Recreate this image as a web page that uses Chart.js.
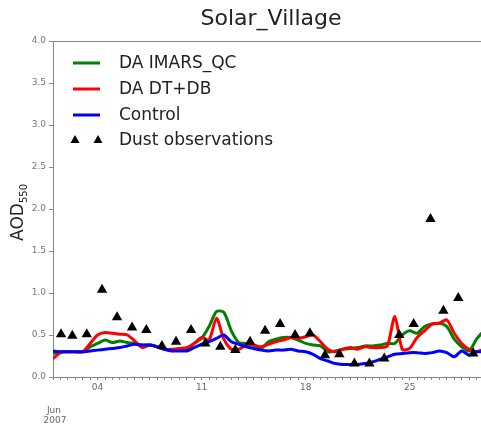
<!DOCTYPE html>
<html>
<head>
<meta charset="utf-8">
<script src="https://cdn.jsdelivr.net/npm/chart.js@4"></script>
<style>
  body { margin: 0; background: #fff; }
  #wrap { width: 481px; height: 427px; position: relative; }
</style>
</head>
<body>
<div id="wrap"><canvas id="myChart"></canvas></div>
<script>
// model times: day of June 2007, every 12 h
const times = [1, 1.5, 2, 2.5, 3, 3.5, 4, 4.5, 5, 5.5, 6, 6.5, 7, 7.5, 8, 8.5, 9, 9.5, 10, 10.5,
  11, 11.5, 12, 12.5, 13, 13.5, 14, 14.5, 15, 15.5, 16, 16.5, 17, 17.5, 18, 18.5, 19, 19.5, 20, 20.5,
  21, 21.5, 22, 22.5, 23, 23.5, 24, 24.5, 25, 25.5, 26, 26.5, 27, 27.5, 28, 28.5, 29, 29.5, 30];

const imarsQC = [0.28, 0.30, 0.30, 0.30, 0.30, 0.36, 0.40, 0.44, 0.41, 0.43, 0.41, 0.40, 0.38, 0.38, 0.36, 0.33, 0.32, 0.32, 0.33, 0.40,
  0.46, 0.60, 0.78, 0.77, 0.55, 0.41, 0.40, 0.38, 0.34, 0.42, 0.45, 0.47, 0.47, 0.44, 0.40, 0.38, 0.37, 0.30, 0.31, 0.33,
  0.34, 0.35, 0.37, 0.37, 0.38, 0.40, 0.40, 0.50, 0.55, 0.52, 0.60, 0.63, 0.64, 0.60, 0.45, 0.36, 0.31, 0.45, 0.55];

const dtdb = [0.22, 0.29, 0.30, 0.30, 0.30, 0.40, 0.50, 0.53, 0.52, 0.51, 0.50, 0.43, 0.35, 0.38, 0.36, 0.33, 0.33, 0.34, 0.35, 0.40,
  0.47, 0.44, 0.70, 0.45, 0.33, 0.33, 0.38, 0.38, 0.36, 0.39, 0.42, 0.44, 0.47, 0.46, 0.48, 0.50, 0.42, 0.33, 0.30, 0.33,
  0.35, 0.33, 0.36, 0.35, 0.35, 0.37, 0.72, 0.33, 0.34, 0.47, 0.55, 0.63, 0.64, 0.68, 0.52, 0.40, 0.33, 0.30, 0.33];

const control = [0.31, 0.30, 0.30, 0.30, 0.30, 0.31, 0.32, 0.33, 0.34, 0.35, 0.37, 0.39, 0.38, 0.38, 0.36, 0.33, 0.31, 0.31, 0.31, 0.35,
  0.39, 0.42, 0.46, 0.50, 0.42, 0.39, 0.36, 0.34, 0.32, 0.31, 0.32, 0.32, 0.33, 0.31, 0.30, 0.27, 0.22, 0.19, 0.16, 0.15,
  0.15, 0.15, 0.16, 0.18, 0.21, 0.24, 0.27, 0.28, 0.29, 0.29, 0.28, 0.29, 0.31, 0.29, 0.24, 0.31, 0.26, 0.30, 0.30];

// dust observations
const obsTimes = [1.54, 2.30, 3.27, 4.30, 5.31, 6.32, 7.28, 8.33, 9.28, 10.29, 11.25, 12.26, 13.27, 14.26, 15.27,
  16.28, 17.29, 18.29, 19.30, 20.27, 21.28, 22.29, 23.29, 24.30, 25.27, 26.40, 27.27, 28.27, 29.28];
const obsAOD = [0.51, 0.49, 0.51, 1.04, 0.71, 0.59, 0.56, 0.37, 0.42, 0.56, 0.40, 0.36, 0.32, 0.42, 0.55,
  0.63, 0.50, 0.52, 0.26, 0.27, 0.16, 0.16, 0.22, 0.50, 0.63, 1.88, 0.79, 0.94, 0.28];

const xTickLabels = { 4: '04', 11: '11', 18: '18', 25: '25' };
const yTicks = [0, 0.5, 1, 1.5, 2, 2.5, 3, 3.5, 4];

const pts = (xs, ys) => xs.map((x, i) => ({ x: x, y: ys[i] }));

const series = [
  { label: 'DA IMARS_QC', color: '#008000', values: imarsQC, order: 3 },
  { label: 'DA DT+DB', color: '#ff0000', values: dtdb, order: 2 },
  { label: 'Control', color: '#0000ff', values: control, order: 1 }
];

const datasets = series.map(s => ({
  type: 'line',
  label: s.label,
  data: pts(times, s.values),
  borderColor: s.color,
  borderWidth: 3,
  pointRadius: 0,
  tension: 0.25,
  order: s.order
}));
datasets.push({
  type: 'scatter',
  label: 'Dust observations',
  data: pts(obsTimes, obsAOD),
  pointStyle: 'triangle',
  pointRadius: 6,
  backgroundColor: '#000',
  borderColor: '#000',
  borderWidth: 0,
  order: 0
});

const font = 'DejaVu Sans';

const extras = {
  id: 'extras',
  afterDraw(chart) {
    const c = chart.ctx;
    const a = chart.chartArea;
    c.save();
    // top spine
    c.strokeStyle = '#888';
    c.lineWidth = 1;
    c.beginPath();
    c.moveTo(a.left, a.top + 0.5);
    c.lineTo(a.right, a.top + 0.5);
    c.stroke();

    // title
    c.fillStyle = '#222';
    c.font = '22px "' + font + '"';
    c.textAlign = 'center';
    c.textBaseline = 'middle';
    c.fillText('Solar_Village', 271, 19);

    // y label
    c.save();
    c.translate(19, 214);
    c.rotate(-Math.PI / 2);
    c.font = '17px "' + font + '"';
    c.textAlign = 'left';
    c.textBaseline = 'middle';
    const w = c.measureText('AOD').width;
    c.fillText('AOD', -w / 2 - 8, 0);
    c.font = '10px "' + font + '"';
    c.fillText('550', w / 2 - 8, 5);
    c.restore();

    // date label
    c.fillStyle = '#666';
    c.font = '9px "' + font + '"';
    c.textAlign = 'center';
    c.fillText('Jun', 54, 411);
    c.fillText('2007', 55, 421);

    // legend
    const rows = [63, 89, 115];
    series.forEach((s, i) => {
      c.strokeStyle = s.color;
      c.lineWidth = 3;
      c.beginPath();
      c.moveTo(73, rows[i]);
      c.lineTo(100, rows[i]);
      c.stroke();
    });
    c.fillStyle = '#000';
    [75, 98].forEach(x => {
      c.beginPath();
      c.moveTo(x, 135);
      c.lineTo(x + 4.5, 143);
      c.lineTo(x - 4.5, 143);
      c.closePath();
      c.fill();
    });
    c.fillStyle = '#222';
    c.font = '17px "' + font + '"';
    c.textAlign = 'left';
    c.textBaseline = 'middle';
    series.forEach((s, i) => c.fillText(s.label, 119, rows[i] + 1));
    c.fillText('Dust observations', 119, 141);
    c.restore();
  }
};

const ctx = document.getElementById('myChart').getContext('2d');
const myChart = new Chart(ctx, {
  data: { datasets: datasets },
  options: {
    responsive: true,
    maintainAspectRatio: false,
    animation: false,
    layout: { autoPadding: false, padding: { top: 41, right: 0, left: 0, bottom: 0 } },
    plugins: {
      legend: { display: false },
      tooltip: { enabled: false }
    },
    scales: {
      x: {
        type: 'linear',
        min: 1,
        max: 29.8,
        afterFit: s => { s.height = 50; s.paddingRight = 0; s.paddingLeft = 0; },
        afterBuildTicks: s => {
          const t = [];
          for (let d = 1; d <= 29.5; d += 0.5) t.push({ value: d });
          s.ticks = t;
        },
        ticks: {
          autoSkip: false,
          maxRotation: 0,
          padding: 2,
          color: '#666',
          font: { family: font, size: 9 },
          callback: v => xTickLabels[v] || ''
        },
        grid: { drawOnChartArea: false, drawTicks: true, tickLength: 3, color: '#888' },
        border: { color: '#888', width: 1 }
      },
      y: {
        type: 'linear',
        min: 0,
        max: 4,
        afterFit: s => { s.width = 53; s.paddingTop = 0; s.paddingBottom = 0; },
        afterBuildTicks: s => { s.ticks = yTicks.map(v => ({ value: v })); },
        ticks: {
          padding: 3,
          color: '#777',
          font: { family: font, size: 9 },
          callback: v => v.toFixed(1)
        },
        grid: { drawOnChartArea: false, drawTicks: true, tickLength: 4, color: '#888' },
        border: { color: '#888', width: 1 }
      }
    }
  },
  plugins: [extras]
});
</script>
</body>
</html>
